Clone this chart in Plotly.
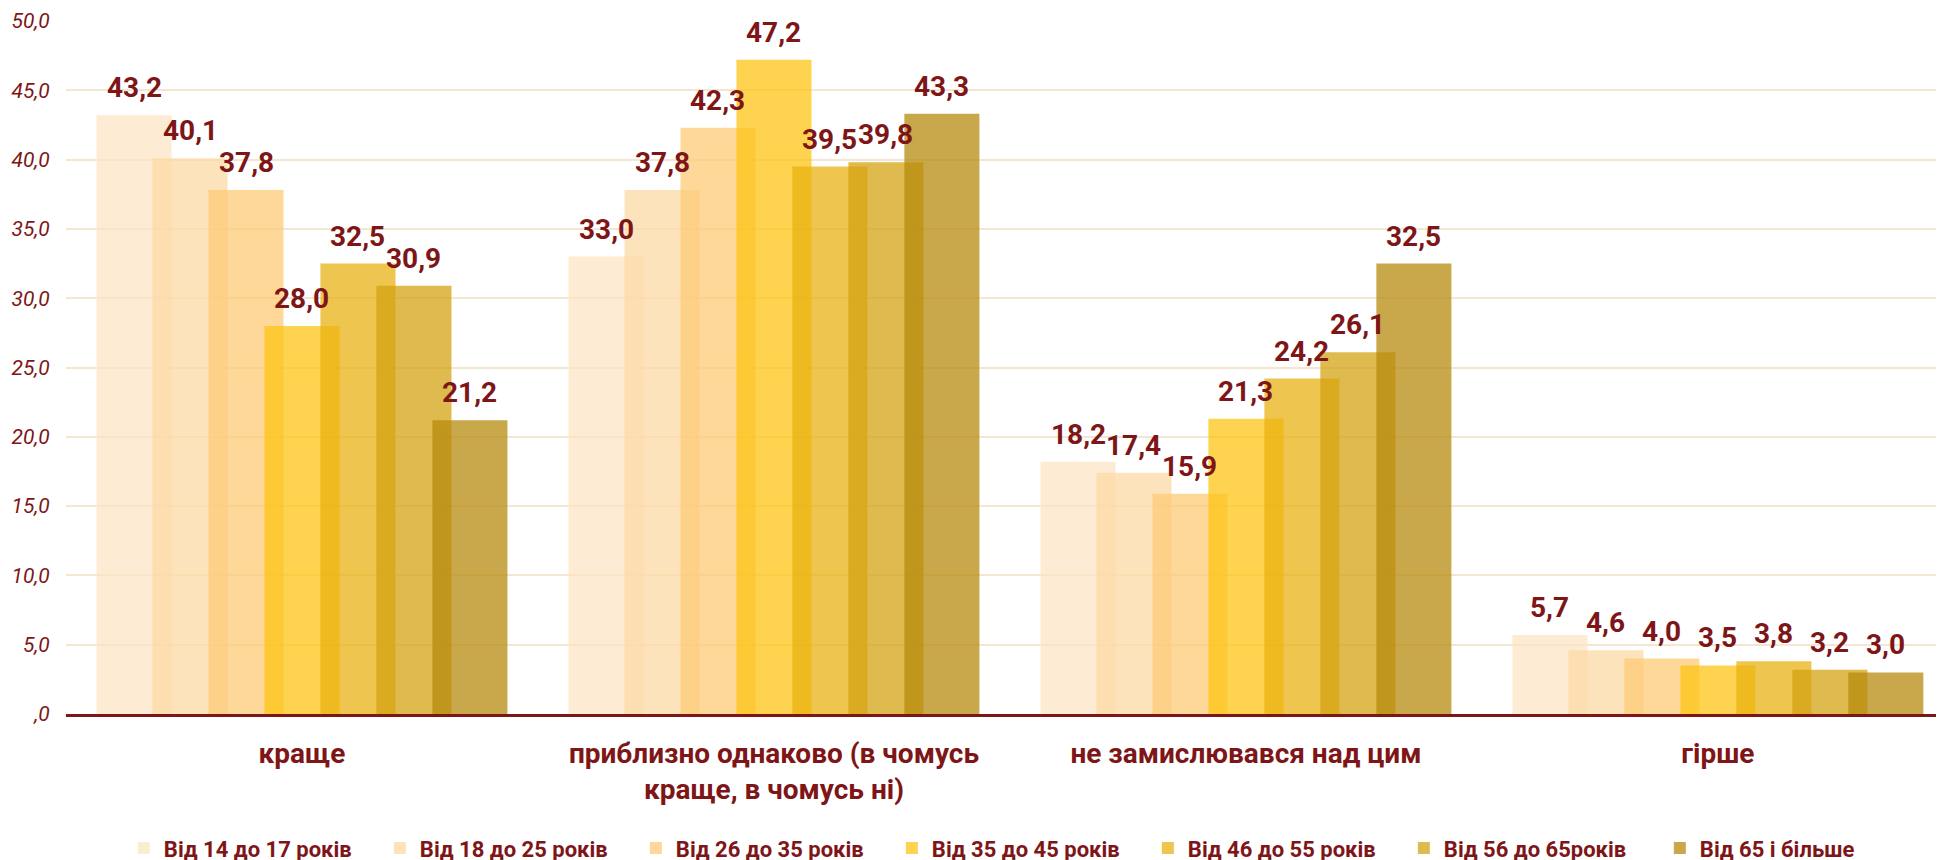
import plotly.graph_objects as go

categories = ["краще", "приблизно однаково (в чомусь<br>краще, в чомусь ні)", "не замислювався над цим", "гірше"]
series_names = ["Від 14 до 17 років", "Від 18 до 25 років", "Від 26 до 35 років", "Від 35 до 45 років",
                "Від 46 до 55 років", "Від 56 до 65років", "Від 65 і більше"]
v_14_17 = [43.2, 33.0, 18.2, 5.7]
v_18_25 = [40.1, 37.8, 17.4, 4.6]
v_26_35 = [37.8, 42.3, 15.9, 4.0]
v_35_45 = [28.0, 47.2, 21.3, 3.5]
v_46_55 = [32.5, 39.5, 24.2, 3.8]
v_56_65 = [30.9, 39.8, 26.1, 3.2]
v_65_plus = [21.2, 43.3, 32.5, 3.0]
series_values = [v_14_17, v_18_25, v_26_35, v_35_45, v_46_55, v_56_65, v_65_plus]
y_tickvals = [0, 5, 10, 15, 20, 25, 30, 35, 40, 45, 50]
y_ticktext = [",0", "5,0", "10,0", "15,0", "20,0", "25,0", "30,0", "35,0", "40,0", "45,0", "50,0"]

colors = ["rgba(254,228,196,0.74)", "rgba(252,217,163,0.74)", "rgba(252,202,117,0.74)",
          "rgba(252,196,17,0.74)", "rgba(232,177,16,0.74)", "rgba(210,162,17,0.74)",
          "rgba(182,137,12,0.74)"]

DARK = "#7E1517"
FONT = "Roboto, Liberation Sans, sans-serif"

bar_w = 0.159
step = 0.1186
n = len(series_names)
span = (n - 1) * step + bar_w
offsets = [-span / 2 + j * step for j in range(n)]

fig = go.Figure()
annotations = []
for j, (name, vals) in enumerate(zip(series_names, series_values)):
    fig.add_trace(go.Bar(
        x=categories, y=vals, name=name,
        width=bar_w, offset=offsets[j],
        marker=dict(color=colors[j], line=dict(width=0)),
    ))
    for i, v in enumerate(vals):
        annotations.append(dict(
            x=i + offsets[j] + bar_w / 2, y=v, xref="x", yref="y",
            text=f"{v:.1f}".replace(".", ","), showarrow=False,
            yanchor="bottom", yshift=9,
            font=dict(family=FONT, size=28, color=DARK, weight="bold"),
        ))

fig.update_layout(
    width=1944, height=860,
    barmode="overlay",
    plot_bgcolor="white", paper_bgcolor="white",
    margin=dict(l=58, r=0, t=13, b=154, autoexpand=False),
    annotations=annotations,
    showlegend=True,
    legend=dict(
        orientation="h", xref="container", yref="container",
        x=0.0596, xanchor="left", y=0.023, yanchor="middle",
        entrywidth=211, entrywidthmode="pixels",
        font=dict(family=FONT, size=22, color=DARK, weight="bold"),
        traceorder="normal",
    ),
)
fig.update_xaxes(
    type="category", range=[-0.5, 3.496], automargin=False,
    showgrid=False, showline=True, linecolor=DARK, linewidth=3,
    ticks="outside", ticklen=12, tickcolor="rgba(0,0,0,0)",
    tickfont=dict(family=FONT, size=28, color=DARK, weight="bold"),
)
fig.update_yaxes(
    range=[0, 50], tickvals=y_tickvals, ticktext=y_ticktext, automargin=False,
    showgrid=True, gridcolor="#F5E6D2", gridwidth=2,
    zeroline=False, showline=False,
    ticks="outside", ticklen=11, tickcolor="rgba(0,0,0,0)",
    tickfont=dict(family=FONT, size=21, color=DARK, style="italic"),
)

fig.write_html("out.html")
